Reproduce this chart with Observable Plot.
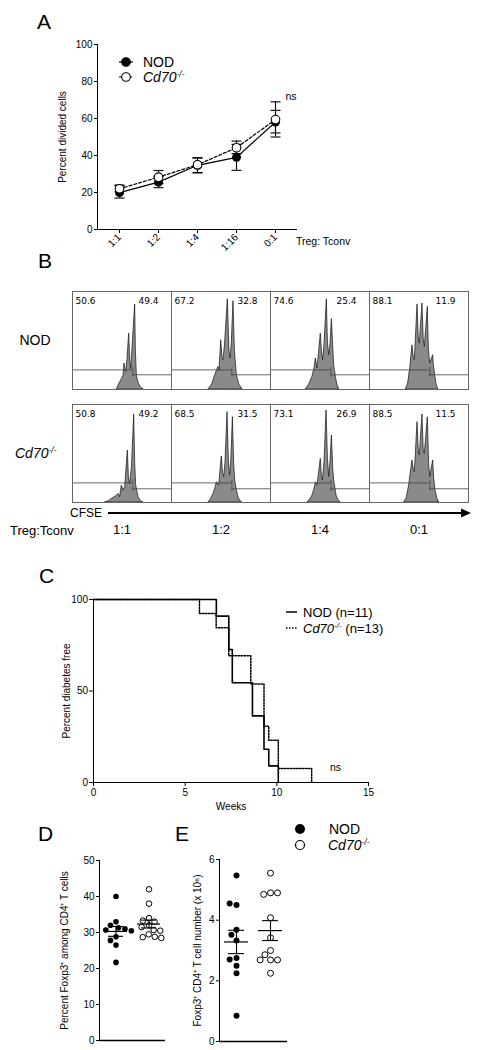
<!DOCTYPE html>
<html><head><meta charset="utf-8">
<script src="https://cdn.jsdelivr.net/npm/d3@7"></script>
<script src="https://cdn.jsdelivr.net/npm/@observablehq/plot@0.6"></script>
<style>
body{margin:0;background:#fff;}
#root{position:relative;width:482px;height:1050px;overflow:hidden;font-family:"Liberation Sans",Arial,sans-serif;}
#root svg{background:transparent !important;overflow:visible;}
</style></head><body><div id="root"></div>
<script>
// ---------- DATA ----------
// Panel A: percent divided cells (mean, SEM range)
const ratiosA = ["1:1", "1:2", "1:4", "1:16", "0:1"];
const seriesNames = ["NOD", "Cd70"];
const nodMeanA = [19.9, 25.6, 34.7, 39.0, 58.1];
const nodLoA = [17.0, 22.6, 30.8, 32.0, 52.2];
const nodHiA = [23.8, 28.6, 38.6, 46.0, 64.4];
const cd70MeanA = [22.0, 28.3, 35.0, 44.2, 59.4];
const cd70LoA = [20.4, 24.8, 30.6, 41.0, 50.0];
const cd70HiA = [24.0, 31.9, 38.8, 47.8, 69.0];
const nsLevelA = 72;

// Panel B: CFSE histograms (x = % of plot width, y = % of plot height)
const ratiosB = ["1:1", "1:2", "1:4", "0:1"];
const strainsB = ["NOD", "Cd70"];
const histNOD = [
  [[44.8,0],[47,5],[49,9],[51.5,14],[52.5,26.5],[53.5,20],[54.2,18],[55.5,30],[57.2,57],[58.3,30],[59.3,21],[60.5,40],[63.3,86.7],[64,40],[65,14],[67,6],[69,2],[71.7,0]],
  [[37.4,0],[41,5],[44.1,14.6],[46.5,21],[47.5,23],[48.5,19],[50.2,50.3],[51.5,32],[52.5,30],[54,45],[56.9,92],[58.5,40],[59.6,31.6],[60.8,45],[62.6,90],[64,40],[66,14.6],[68.5,5],[71.7,0]],
  [[35.7,0],[39,5],[42.4,13],[44.5,22],[45.8,31.6],[47.5,21.4],[50.8,57],[52,38],[53.2,30],[54.5,45],[56.9,92],[58,48],[59.3,35],[60.5,45],[62,71.8],[63.5,40],[64.3,24.8],[66,13],[67.5,5],[69.4,0]],
  [[36.7,0],[39,6],[41.1,21.4],[43.4,45],[44.8,32],[45.8,30],[48.5,86.7],[49.8,52],[50.8,47],[53.5,87.8],[54.8,50],[55.9,43.5],[58.9,84.4],[60,40],[61.3,26.5],[64.3,35],[65,25],[66.3,14.6],[67.8,5],[69.4,0]]
];
const histCd70 = [
  [[33,0],[37,1.5],[39.7,3.7],[42,5],[44.8,7],[46.5,8.8],[48.1,5.4],[49.8,17.3],[51.5,12.2],[53.2,15.6],[55.9,53],[57,25],[58.2,19],[60,35],[62.3,89.8],[63.3,40],[64.3,17.3],[66.7,5.4],[69,1.5],[71.7,0]],
  [[37.4,0],[40,3.5],[42.4,8.8],[44.5,15],[45.8,20.7],[48.1,17.3],[50.8,47],[52,30],[53.2,25.9],[54.5,40],[56.6,92.2],[58,40],[59.3,27.6],[60.5,45],[62,87],[63.3,40],[64.3,22.4],[66,12.2],[68,4],[71,0]],
  [[37.4,0],[40,3],[42.4,7],[44.5,14],[45.8,20.7],[47.5,17.3],[50.8,44.6],[51.8,28],[52.9,22.4],[54.5,40],[56.6,93.9],[58,45],[59.3,25.9],[60.5,40],[62,68.4],[63.3,35],[64.3,22.4],[66.7,7],[68.5,2.5],[71,0]],
  [[35,0],[37.5,4],[40,17.3],[43.4,42.9],[44.8,33],[45.8,31],[48.5,82],[49.8,52],[50.8,48],[53.5,89.8],[54.8,52],[55.9,49.7],[58.9,87],[60.2,40],[61.3,25.9],[64.3,42.9],[65.3,25],[66.7,12.2],[68.5,4],[70.4,0]]
];
const leftPctNOD = ["50.6", "67.2", "74.6", "88.1"];
const rightPctNOD = ["49.4", "32.8", "25.4", "11.9"];
const leftPctCd70 = ["50.8", "68.5", "73.1", "88.5"];
const rightPctCd70 = ["49.2", "31.5", "26.9", "11.5"];
const gateSplit = 61;
const gateLeftLevel = [20, 20];
const gateRightLevel = [15, 14];

// Panel C: Kaplan-Meier
const nodWeeks = [0, 6.7, 7.38, 7.57, 8.67, 9.3, 9.56, 10.08];
const nodSurv = [100, 90.9, 72.7, 54.5, 36.4, 18.2, 9.1, 0];
const cd70Weeks = [0, 5.78, 6.69, 7.38, 8.58, 9.3, 9.56, 10.08, 11.9];
const cd70Surv = [100, 92.3, 84.6, 69.2, 53.8, 30.8, 23.1, 7.7, 0];
const nsPosC = [13.2, 8];

// Panel D: percent Foxp3+ among CD4+
const dNOD = [40.0, 33.0, 32.0, 31.3, 31.0, 30.7, 30.5, 28.8, 27.8, 26.5, 21.7];
const dCd70 = [42.0, 38.0, 34.0, 33.3, 33.0, 32.0, 31.5, 30.7, 30.5, 29.5, 28.8, 28.7, 28.5];
// Panel E: Foxp3+ CD4+ T cell number (x 10^6)
const eNOD = [5.47, 4.5, 4.55, 3.68, 3.52, 3.33, 2.75, 2.7, 2.5, 2.25, 0.85];
const eCd70 = [5.55, 4.9, 4.85, 4.9, 4.08, 3.42, 3.0, 2.86, 2.69, 2.69, 2.69, 2.25];

// ---------- HELPERS ----------
const FONT = '"Liberation Sans", Arial, Helvetica, sans-serif';
const root = document.getElementById("root");
function place(el, left, top) {
  el.style.position = "absolute"; el.style.left = left + "px"; el.style.top = top + "px";
  root.appendChild(el);
}
const capSymbol = {draw(ctx, size) { const w = Math.sqrt(size / Math.PI); ctx.moveTo(-w, 0); ctx.lineTo(w, 0); }};
const baseStyle = {fontFamily: FONT, fontSize: "10px", color: "black", background: "transparent", overflow: "visible"};

// ---------- PANEL A ----------
const rowsA = ratiosA.flatMap((r, i) => [
  {series: "NOD", ratio: r, mean: nodMeanA[i], lo: nodLoA[i], hi: nodHiA[i]},
  {series: "Cd70", ratio: r, mean: cd70MeanA[i], lo: cd70LoA[i], hi: cd70HiA[i]}
]);
const nodA = rowsA.filter(d => d.series === "NOD");
const cdA = rowsA.filter(d => d.series === "Cd70");
const plotA = Plot.plot({
  width: 482, height: 260, marginLeft: 97, marginRight: 186, marginTop: 44, marginBottom: 31,
  style: baseStyle,
  x: {type: "point", domain: ratiosA, padding: 0.5, tickSize: 4, tickPadding: 2, tickRotate: -45, line: true, label: null},
  y: {domain: [0, 100], ticks: [0, 20, 40, 60, 80, 100], tickSize: 3, tickPadding: 2, line: true,
      label: "Percent divided cells", labelAnchor: "center", labelOffset: 39, labelArrow: "none"},
  marks: [
    Plot.ruleX(rowsA, {x: "ratio", y1: "lo", y2: "hi", stroke: "black", strokeWidth: 1.1}),
    Plot.dot(rowsA, {x: "ratio", y: "lo", symbol: capSymbol, r: 5, fill: "none", stroke: "black", strokeWidth: 1.1}),
    Plot.dot(rowsA, {x: "ratio", y: "hi", symbol: capSymbol, r: 5, fill: "none", stroke: "black", strokeWidth: 1.1}),
    Plot.line(nodA, {x: "ratio", y: "mean", stroke: "black", strokeWidth: 1.2}),
    Plot.line(cdA, {x: "ratio", y: "mean", stroke: "black", strokeWidth: 1.2, strokeDasharray: "3,2"}),
    Plot.dot(nodA, {x: "ratio", y: "mean", r: 4.5, fill: "black"}),
    Plot.dot(cdA, {x: "ratio", y: "mean", r: 4.3, fill: "white", stroke: "black", strokeWidth: 1.1}),
    Plot.text(["ns"], {x: () => ratiosA[ratiosA.length - 1], y: () => nsLevelA, text: d => d, dx: 10, textAnchor: "start", fontSize: 10.5})
  ]
});
place(plotA, 0, 0);

// ---------- PANEL B ----------
const histRows = [];
[[strainsB[0], histNOD], [strainsB[1], histCd70]].forEach(([strain, hs]) =>
  hs.forEach((pts, j) => pts.forEach(([x, y]) => histRows.push({strain, ratio: ratiosB[j], x, y}))));
const gateRows = [];
strainsB.forEach((s, i) => ratiosB.forEach(r => {
  gateRows.push({strain: s, ratio: r, x1: 0, x2: gateSplit, y: gateLeftLevel[i]});
  gateRows.push({strain: s, ratio: r, x1: gateSplit, x2: 100, y: gateRightLevel[i]});
}));
const pctRows = [];
ratiosB.forEach((r, j) => {
  pctRows.push({strain: "NOD", ratio: r, left: leftPctNOD[j], right: rightPctNOD[j]});
  pctRows.push({strain: "Cd70", ratio: r, left: leftPctCd70[j], right: rightPctCd70[j]});
});
const plotB = Plot.plot({
  width: 482, height: 260, marginLeft: 70, marginRight: 13, marginTop: 11, marginBottom: 38,
  style: {...baseStyle, fontSize: "13px"},
  x: {domain: [0, 100], axis: null},
  y: {domain: [0, 100], axis: null},
  fx: {domain: ratiosB, paddingInner: 0, paddingOuter: 0, axis: "bottom", tickSize: 0, tickPadding: 22, label: null},
  fy: {domain: strainsB, paddingInner: 0.133, paddingOuter: 0, axis: null},
  marks: [
    Plot.areaY(histRows, {fx: "ratio", fy: "strain", x: "x", y: "y", fill: "#8a8a8a", stroke: "#111", strokeWidth: 0.7}),
    Plot.ruleY(gateRows, {fx: "ratio", fy: "strain", y: "y", x1: "x1", x2: "x2", stroke: "#444", strokeWidth: 0.8}),
    Plot.ruleX(gateRows, {fx: "ratio", fy: "strain", x: () => gateSplit, y1: d => d.y - 2.5, y2: d => d.y + 2.5, stroke: "#444", strokeWidth: 0.8}),
    Plot.text(pctRows, {fx: "ratio", fy: "strain", text: "left", frameAnchor: "top-left", textAnchor: "start", lineAnchor: "top", dx: 3, dy: 6, fontSize: 9, fontFamily: "DejaVu Sans"}),
    Plot.text(pctRows, {fx: "ratio", fy: "strain", text: "right", frameAnchor: "top-right", textAnchor: "end", lineAnchor: "top", dx: -13, dy: 6, fontSize: 9, fontFamily: "DejaVu Sans"}),
    Plot.frame({stroke: "#666", strokeWidth: 1})
  ]
});
place(plotB, 0, 280);

// ---------- PANEL C ----------
const nodC = nodWeeks.map((w, i) => ({w, s: nodSurv[i]}));
const cdC = cd70Weeks.map((w, i) => ({w, s: cd70Surv[i]}));
const plotC = Plot.plot({
  width: 482, height: 255, marginLeft: 93, marginRight: 114, marginTop: 39, marginBottom: 33,
  style: baseStyle,
  x: {domain: [0, 15], ticks: [0, 5, 10, 15], tickSize: 4, tickPadding: 2, line: true,
      label: "Weeks", labelAnchor: "center", labelOffset: 27, labelArrow: "none"},
  y: {domain: [0, 100], ticks: [0, 50, 100], tickSize: 4, tickPadding: 1.5, line: true,
      label: "Percent diabetes free", labelAnchor: "center", labelOffset: 31, labelArrow: "none"},
  marks: [
    Plot.line(cdC, {x: "w", y: "s", curve: "step-after", stroke: "black", strokeWidth: 1.5, strokeDasharray: "1.5,1.5"}),
    Plot.line(nodC, {x: "w", y: "s", curve: "step-after", stroke: "black", strokeWidth: 1.6}),
    Plot.text(["ns"], {x: () => nsPosC[0], y: () => nsPosC[1], text: d => d, fontSize: 10.5})
  ]
});
place(plotC, 0, 560);

// ---------- PANELS D & E ----------
function stats(groups) {
  return groups.map(([g, vs]) => {
    const m = d3.mean(vs), se = d3.deviation(vs) / Math.sqrt(vs.length);
    return {g, m, lo: m - se, hi: m + se};
  });
}
function scatter({nod, cd, domain, ticks, label, labelOffset, width, marginLeft, marginRight, marginTop, marginBottom, r}) {
  const nodRows = nod.map(v => ({g: "NOD", v}));
  const cdRows = cd.map(v => ({g: "Cd70", v}));
  const st = stats([["NOD", nod], ["Cd70", cd]]);
  return Plot.plot({
    width, height: 200, marginLeft, marginRight, marginTop, marginBottom,
    style: baseStyle,
    x: {domain: [-1, 1], axis: null},
    y: {domain, ticks, tickFormat: d => String(d), tickSize: 3, tickPadding: 2, line: true, label, labelAnchor: "center", labelOffset, labelArrow: "none"},
    fx: {domain: seriesNames, paddingInner: 0, paddingOuter: 0, axis: null},
    marks: [
      Plot.ruleY([domain[0]], {stroke: "black", strokeWidth: 1.5}),
      Plot.dot(nodRows, Plot.dodgeX("middle", {fx: "g", y: "v", r, fill: "black", padding: 0.6})),
      Plot.dot(cdRows, Plot.dodgeX("middle", {fx: "g", y: "v", r, fill: "white", stroke: "black", strokeWidth: 1, padding: 0.6})),
      Plot.ruleX(st, {fx: "g", x: () => 0, y1: "lo", y2: "hi", stroke: "black", strokeWidth: 1.1}),
      Plot.tickY(st, {fx: "g", y: "m", insetLeft: 5, insetRight: 5, stroke: "black", strokeWidth: 1.2}),
      Plot.tickY(st, {fx: "g", y: "lo", insetLeft: 9, insetRight: 9, stroke: "black", strokeWidth: 1.1}),
      Plot.tickY(st, {fx: "g", y: "hi", insetLeft: 9, insetRight: 9, stroke: "black", strokeWidth: 1.1})
    ]
  });
}
const plotD = scatter({nod: dNOD, cd: dCd70, domain: [0, 50], ticks: [0, 10, 20, 30, 40, 50],
  label: "Percent Foxp3\u207A among CD4\u207A T cells", labelOffset: 39,
  width: 175, marginLeft: 99, marginRight: 10, marginTop: 10, marginBottom: 10, r: 2.8});
place(plotD, 0, 850);
const plotE = scatter({nod: eNOD, cd: eCd70, domain: [0, 6], ticks: [0, 2, 4, 6],
  label: "Foxp3\u207A CD4\u207A T cell number (x 10\u2076)", labelOffset: 26,
  width: 120, marginLeft: 43, marginRight: 8, marginTop: 9, marginBottom: 9, r: 3});
place(plotE, 175, 850);

// ---------- OVERLAY: panel letters, legends, annotations ----------
const ov = d3.create("svg").attr("width", 482).attr("height", 1050)
  .style("position", "absolute").style("left", "0px").style("top", "0px").style("pointer-events", "none")
  .attr("font-family", FONT).attr("fill", "black");
const letters = [["A", 37, 29], ["B", 38, 268], ["C", 39, 583], ["D", 38, 841], ["E", 175, 841]];
letters.forEach(([t, x, y]) => ov.append("text").attr("x", x).attr("y", y).attr("font-size", 21).text(t));

function cd70Label(sel, x, y, size, anchor, extra) {
  const t = sel.append("text").attr("x", x).attr("y", y).attr("font-size", size).attr("text-anchor", anchor || "start");
  t.append("tspan").attr("font-style", "italic").text("Cd70");
  t.append("tspan").attr("font-style", "italic").attr("font-size", size * 0.62).attr("dy", -size * 0.38).text("-/-");
  if (extra) t.append("tspan").attr("dy", size * 0.38).text(extra);
  return t;
}
// Legend A
[0, 1].forEach(i => {
  const y = 62 + i * 15;
  ov.append("line").attr("x1", 119).attr("x2", 133).attr("y1", y).attr("y2", y).attr("stroke", "black").attr("stroke-width", 1.2)
    .attr("stroke-dasharray", i ? "3,2" : null);
  ov.append("circle").attr("cx", 126).attr("cy", y).attr("r", 4.3)
    .attr("fill", i ? "white" : "black").attr("stroke", "black").attr("stroke-width", 1.1);
});
ov.append("text").attr("x", 143).attr("y", 67).attr("font-size", 14).text(seriesNames[0]);
cd70Label(ov, 143, 82, 14);
ov.append("text").attr("x", 296).attr("y", 245).attr("font-size", 10.5).text("Treg: Tconv");

// Panel B labels
ov.append("text").attr("x", 35).attr("y", 345).attr("font-size", 14).attr("text-anchor", "middle").text(strainsB[0]);
cd70Label(ov, 15, 458, 14);
ov.append("text").attr("x", 70).attr("y", 517).attr("font-size", 12).text("CFSE");
ov.append("line").attr("x1", 108).attr("x2", 462).attr("y1", 513).attr("y2", 513).attr("stroke", "black").attr("stroke-width", 2);
ov.append("path").attr("d", "M461,508.5L471,513L461,517.5Z").attr("fill", "black");
ov.append("text").attr("x", 10).attr("y", 535).attr("font-size", 13).text("Treg:Tconv");

// Legend C
ov.append("line").attr("x1", 286).attr("x2", 297).attr("y1", 612).attr("y2", 612).attr("stroke", "black").attr("stroke-width", 1.5);
ov.append("text").attr("x", 303).attr("y", 616.5).attr("font-size", 13).text(seriesNames[0] + " (n=11)");
ov.append("line").attr("x1", 286).attr("x2", 297).attr("y1", 628).attr("y2", 628).attr("stroke", "black").attr("stroke-width", 1.5).attr("stroke-dasharray", "1.5,1.5");
cd70Label(ov, 303, 632.5, 13, "start", " (n=13)");

// Legend D/E
ov.append("circle").attr("cx", 300).attr("cy", 829).attr("r", 5).attr("fill", "black");
ov.append("text").attr("x", 329).attr("y", 834).attr("font-size", 14).text(seriesNames[0]);
ov.append("circle").attr("cx", 300).attr("cy", 845).attr("r", 4.5).attr("fill", "white").attr("stroke", "black").attr("stroke-width", 1.2);
cd70Label(ov, 328, 850, 14);
root.appendChild(ov.node());
</script></body></html>
